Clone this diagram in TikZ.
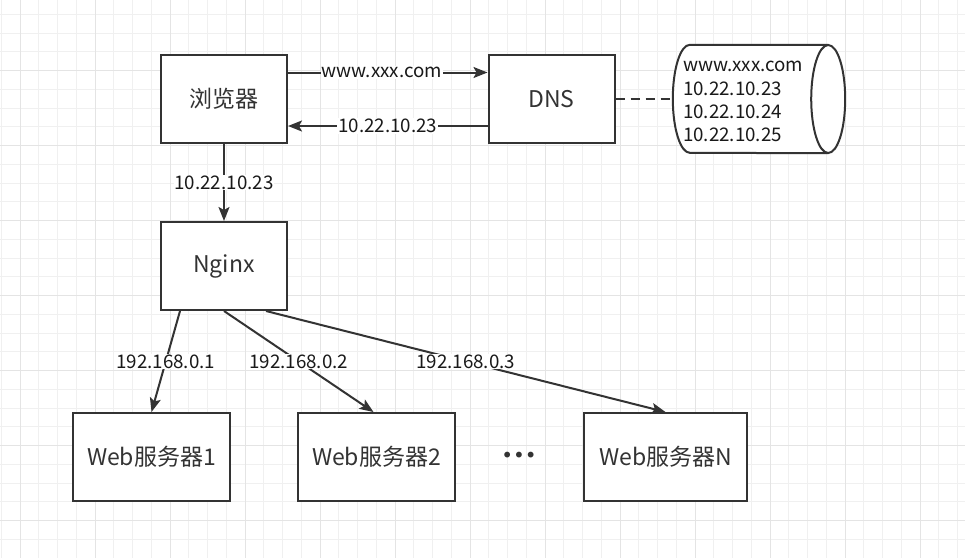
\documentclass[tikz,border=0pt]{standalone}
\usepackage{fontspec}
\setmainfont{Noto Sans CJK SC}
\newfontfamily\dotfont{DejaVu Sans}
\usetikzlibrary{positioning,arrows.meta}
\definecolor{edgegray}{HTML}{333333}
\definecolor{gridminor}{HTML}{F0F0F0}
\definecolor{gridmajor}{HTML}{E4E4E4}
\tikzset{
  box/.style={draw=edgegray, line width=2pt, fill=white, minimum width=126pt,
    minimum height=88pt, inner sep=0pt, text=edgegray,
    font=\fontsize{23}{27}\selectfont},
  webbox/.style={box, minimum width=157pt},
  link/.style={draw=edgegray, line width=2pt,
    -{Stealth[length=14pt,width=11pt,inset=3pt]}},
  iplabel/.style={fill=white, inner sep=1pt, text=black!90,
    font=\fontsize{18.75}{23}\selectfont},
}
\begin{document}
\begin{tikzpicture}[x=1pt, y=-1pt]
  \useasboundingbox[fill=white] (0,0) rectangle (965,558);
  % grid
  \foreach \k in {0,...,51}
    \draw[gridminor, line width=1pt] ({1.25+18.75*\k},0) -- ({1.25+18.75*\k},558);
  \foreach \k in {0,...,28}
    \draw[gridminor, line width=1pt] (0,{14.45+18.75*\k}) -- (965,{14.45+18.75*\k});
  \foreach \k in {0,...,12}
    \draw[gridmajor, line width=1pt] ({20+75*\k},0) -- ({20+75*\k},558);
  \foreach \k in {0,...,6}
    \draw[gridmajor, line width=1pt] (0,{70.7+75*\k}) -- (965,{70.7+75*\k});

  \node[box] (browser) at (224,99) {浏览器};
  \node[box] (dns) at (551.5,99) {DNS};
  \node[box] (nginx) at (224,266) {Nginx};
  \node[webbox] (web1) at (151.5,457) {Web服务器1};
  \node[webbox] (web2) at (376.5,457) {Web服务器2};
  \node[webbox, minimum width=163pt] (webn) at (665.5,457) {Web服务器N};
  \node[text=edgegray, font=\dotfont\fontsize{20}{24}\selectfont] (dots) at (519,457) {•••};

  % database
  \node[minimum width=172pt, minimum height=108pt, inner sep=0pt] (db) at (759,99) {};
  \fill[white] ([xshift=17pt]db.north west) rectangle ([xshift=-17pt]db.south east);
  \fill[white] ([xshift=17pt]db.west) ellipse [x radius=17pt, y radius=54pt];
  \draw[edgegray, line width=2pt] ([xshift=-17pt]db.north east) -- ([xshift=17pt]db.north west)
    arc[start angle=90, end angle=270, x radius=17pt, y radius=54pt]
    -- ([xshift=-17pt]db.south east);
  \draw[edgegray, line width=2pt, fill=white] ([xshift=-17pt]db.east) ellipse [x radius=17pt, y radius=54pt];
  \node[anchor=west, align=left, inner sep=0pt, text=black!90,
    font=\fontsize{18.75}{23.2}\selectfont] (dbtext) at ([xshift=10pt, yshift=-2.5pt]db.west)
    {www.xxx.com\\10.22.10.23\\10.22.10.24\\10.22.10.25};

  \draw[link] ([yshift=26.5pt]browser.east) -- node[iplabel, pos=0.47] {www.xxx.com} ([yshift=26.5pt]dns.west);
  \draw[link] ([yshift=-27pt]dns.west) -- node[iplabel] {10.22.10.23} ([yshift=-27pt]browser.east);
  \draw[edgegray, line width=2pt, dash pattern=on 9pt off 6pt] (dns.east) -- (db.west);
  \draw[link] (browser) -- node[iplabel] {10.22.10.23} (nginx);
  \draw[link] ([xshift=-44pt]nginx.south) -- node[iplabel] {192.168.0.1} (web1.north);
  \draw[link] (nginx.south) -- node[iplabel] {192.168.0.2} ([xshift=-3pt]web2.north);
  \draw[link] ([xshift=42pt]nginx.south) -- node[iplabel] {192.168.0.3} (webn.north);
\end{tikzpicture}
\end{document}
